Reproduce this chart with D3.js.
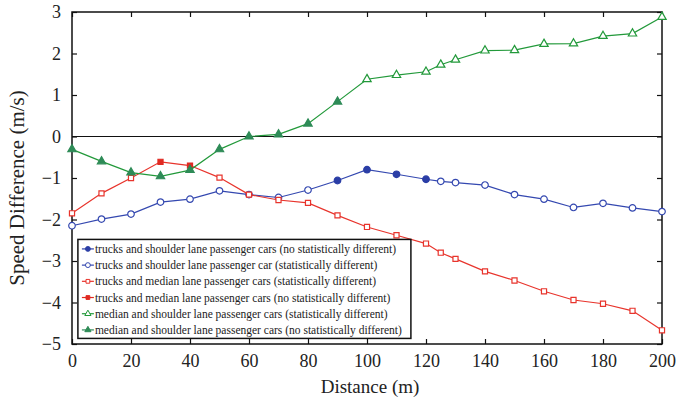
<!DOCTYPE html>
<html>
<head>
<meta charset="utf-8">
<script src="https://cdn.jsdelivr.net/npm/d3@7"></script>
<style>
  body { margin: 0; background: #fff; }
  svg text { font-family: "Liberation Serif", "DejaVu Serif", serif !important; fill: #222; }
</style>
</head>
<body>
<div class="chart"></div>
<script>
// data
const distance = [0, 10, 20, 30, 40, 50, 60, 70, 80, 90, 100, 110, 120, 125, 130, 140, 150, 160, 170, 180, 190, 200];

const trucksShoulder = [-2.15, -1.99, -1.87, -1.58, -1.51, -1.31, -1.40, -1.47, -1.29, -1.06, -0.80, -0.91, -1.03, -1.08, -1.11, -1.17, -1.40, -1.51, -1.71, -1.61, -1.72, -1.81];
const trucksMedian = [-1.85, -1.37, -1.00, -0.61, -0.70, -0.99, -1.40, -1.53, -1.60, -1.90, -2.18, -2.38, -2.58, -2.80, -2.95, -3.25, -3.47, -3.73, -3.94, -4.03, -4.20, -4.67];
const medianShoulder = [-0.31, -0.60, -0.87, -0.96, -0.81, -0.31, 0.00, 0.05, 0.31, 0.84, 1.38, 1.48, 1.56, 1.73, 1.85, 2.07, 2.08, 2.23, 2.24, 2.42, 2.48, 2.88];

// distances where the difference is not statistically different (filled markers)
const shoulderSame = [90, 100, 110, 120];
const medianSame = [30, 40];
const pairSame = [0, 10, 20, 30, 40, 50, 60, 70, 80, 90];

const xTicks = [0, 20, 40, 60, 80, 100, 120, 140, 160, 180, 200];
const yTicks = [-5, -4, -3, -2, -1, 0, 1, 2, 3];

const legendLabels = [
  'trucks and shoulder lane passenger cars (no statistically different)',
  'trucks and shoulder lane passenger car (statistically different)',
  'trucks and median lane passenger cars (statistically different)',
  'trucks and median lane passenger cars (no statistically different)',
  'median and shoulder lane passenger cars (statistically different)',
  'median and shoulder lane passenger cars (no statistically different)'
];

const width = 678, height = 400;
const margin = {top: 12, right: 16, bottom: 56, left: 72};
const w = width - margin.left - margin.right;
const h = height - margin.top - margin.bottom;

const blue = '#3448b0', red = '#e8342c', green = '#22993a', seagreen = '#2e8b57';
const serif = '"Liberation Serif", "DejaVu Serif", serif';

const svg = d3.select('.chart').append('svg')
  .attr('width', width)
  .attr('height', height)
  .attr('font-family', serif);

const g = svg.append('g')
  .attr('transform', 'translate(' + margin.left + ',' + margin.top + ')');

const x = d3.scaleLinear().domain([0, 200]).range([0, w]);
const y = d3.scaleLinear().domain([-5, 3]).range([h, 0]);

// axes, ticks inside on all four sides
g.append('g')
  .attr('transform', 'translate(0,' + h + ')')
  .call(d3.axisBottom(x).tickValues(xTicks).tickSizeInner(-5).tickSizeOuter(0).tickPadding(10))
  .call(a => a.selectAll('text').style('font-size', '18px').attr('dy', '0.72em'));
g.append('g')
  .call(d3.axisTop(x).tickValues(xTicks).tickSizeInner(-5).tickSizeOuter(0).tickFormat(''));
g.append('g')
  .call(d3.axisLeft(y).tickValues(yTicks).tickSizeInner(-5).tickSizeOuter(0).tickPadding(11)
    .tickFormat(d => d < 0 ? '\u2212' + Math.abs(d) : d))
  .call(a => a.selectAll('text').style('font-size', '18px'));
g.append('g')
  .attr('transform', 'translate(' + w + ',0)')
  .call(d3.axisRight(y).tickValues(yTicks).tickSizeInner(-5).tickSizeOuter(0).tickFormat(''));

g.selectAll('.domain').remove();
g.selectAll('.tick line').attr('stroke', '#111').attr('stroke-width', 1.2);
g.selectAll('g').attr('font-family', serif);

g.append('rect')
  .attr('width', w).attr('height', h)
  .attr('fill', 'none').attr('stroke', '#111').attr('stroke-width', 1.5);

// zero line
g.append('line')
  .attr('x1', 0).attr('x2', w)
  .attr('y1', y(0)).attr('y2', y(0))
  .attr('stroke', '#111').attr('stroke-width', 1);

const line = d3.line()
  .x((d, i) => x(distance[i]))
  .y(d => y(d));

const series = [
  {values: trucksShoulder, same: shoulderSame, color: blue, fillColor: '#2b3ea6', shape: 'circle'},
  {values: trucksMedian, same: medianSame, color: red, fillColor: '#e02a22', shape: 'square'},
  {values: medianShoulder, same: pairSame, color: green, fillColor: seagreen, shape: 'triangle'}
];

const symbolFor = (shape, k) => {
  if (shape === 'circle') return d3.symbol(d3.symbolCircle, 34 * k);
  if (shape === 'square') return d3.symbol(d3.symbolSquare, 26 * k);
  return d3.symbol(d3.symbolTriangle, 30 * k);
};

series.forEach(s => {
  g.append('path')
    .datum(s.values)
    .attr('fill', 'none')
    .attr('stroke', s.color)
    .attr('stroke-width', 1.2)
    .attr('d', line);

  g.selectAll(null)
    .data(s.values)
    .enter().append('path')
    .attr('transform', (d, i) => 'translate(' + x(distance[i]) + ',' + y(d) + ')')
    .attr('d', symbolFor(s.shape, 1)())
    .attr('fill', (d, i) => s.same.includes(distance[i]) ? s.fillColor : '#fff')
    .attr('stroke', (d, i) => s.same.includes(distance[i]) ? s.fillColor : s.color)
    .attr('stroke-width', 1.2);
});

// legend
const legendItems = [
  {color: '#2b3ea6', shape: 'circle', filled: true},
  {color: blue, shape: 'circle', filled: false},
  {color: red, shape: 'square', filled: false},
  {color: '#e02a22', shape: 'square', filled: true},
  {color: green, shape: 'triangle', filled: false},
  {color: seagreen, shape: 'triangle', filled: true}
];

const legend = g.append('g')
  .attr('transform', 'translate(' + (x(2)) + ',' + (y(-2.48)) + ')');

legend.append('rect')
  .attr('width', 333).attr('height', 99)
  .attr('fill', '#fff').attr('stroke', '#111').attr('stroke-width', 1.5);

const rows = legend.selectAll('.row')
  .data(legendItems)
  .enter().append('g')
  .attr('class', 'row')
  .attr('transform', (d, i) => 'translate(0,' + (9.5 + i * 16.2) + ')');

rows.append('line')
  .attr('x1', 4).attr('x2', 16)
  .attr('stroke', d => d.color).attr('stroke-width', 1.2);

rows.append('path')
  .attr('transform', 'translate(10,0)')
  .attr('d', d => symbolFor(d.shape, 0.55)())
  .attr('fill', d => d.filled ? d.color : '#fff')
  .attr('stroke', d => d.color)
  .attr('stroke-width', 1);

rows.append('text')
  .attr('x', 17)
  .attr('dy', '0.35em')
  .style('font-size', '11.5px')
  .text((d, i) => legendLabels[i]);

// axis titles
svg.append('text')
  .attr('x', margin.left + w / 2 + 3)
  .attr('y', 393)
  .attr('text-anchor', 'middle')
  .style('font-size', '19px')
  .text('Distance (m)');

svg.append('text')
  .attr('transform', 'translate(24,188) rotate(-90)')
  .attr('text-anchor', 'middle')
  .style('font-size', '21px')
  .text('Speed Difference (m/s)');
</script>
</body>
</html>
